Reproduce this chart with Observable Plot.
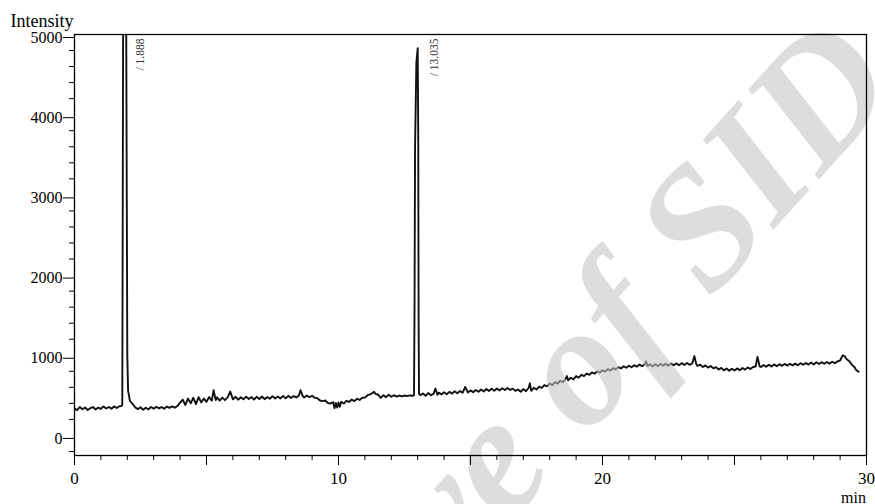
<!DOCTYPE html>
<html>
<head>
<meta charset="utf-8">
<script src="https://cdn.jsdelivr.net/npm/d3@7"></script>
<script src="https://cdn.jsdelivr.net/npm/@observablehq/plot@0.6"></script>
<style>
  html, body { margin: 0; padding: 0; background: #fff; }
</style>
</head>
<body>
<div id="chart"></div>
<script>
// Retention time (min)
const times = [
  0.0,0.1,0.2,0.3,0.4,0.5,0.6,0.7,0.8,0.9,1.0,1.1,1.2,1.3,1.4,1.5,1.6,1.7,1.78,1.81,
  1.83,1.85,1.89,1.93,1.95,1.98,2.0,2.03,2.1,2.2,2.3,2.4,2.5,2.6,2.7,2.8,2.9,
  3.0,3.1,3.2,3.3,3.4,3.5,3.6,3.7,3.8,3.9,4.0,4.1,4.2,4.3,4.4,4.5,4.6,4.7,4.8,4.9,
  5.0,5.1,5.2,5.27,5.35,5.4,5.5,5.6,5.7,5.8,5.9,6.0,6.1,6.2,6.3,6.4,6.5,6.6,6.7,6.8,6.9,
  7.0,7.1,7.2,7.3,7.4,7.5,7.6,7.7,7.8,7.9,8.0,8.1,8.2,8.3,8.4,8.5,8.56,8.65,8.7,8.8,8.9,
  9.0,9.1,9.2,9.3,9.4,9.5,9.6,9.7,9.8,9.85,9.9,9.95,10.0,10.05,10.1,10.2,10.3,10.4,10.5,
  10.6,10.7,10.8,10.9,11.0,11.1,11.2,11.3,11.35,11.4,11.5,11.6,11.7,11.8,11.9,12.0,12.1,
  12.2,12.3,12.4,12.5,12.6,12.7,12.8,12.86,12.88,12.90,12.95,13.0,13.02,13.035,13.05,
  13.1,13.2,13.3,13.4,13.5,13.6,13.67,13.75,13.8,13.9,14.0,14.1,14.2,14.3,14.4,14.5,14.6,
  14.7,14.8,14.9,15.0,15.1,15.2,15.3,15.4,15.5,15.6,15.7,15.8,15.9,16.0,16.1,16.2,16.3,
  16.4,16.5,16.6,16.7,16.8,16.9,17.0,17.1,17.2,17.25,17.3,17.4,17.5,17.6,17.7,17.8,17.9,
  18.0,18.1,18.2,18.3,18.4,18.5,18.6,18.65,18.7,18.8,18.9,19.0,19.1,19.2,19.3,19.4,19.5,
  19.6,19.7,19.8,19.9,20.0,20.1,20.2,20.3,20.4,20.5,20.6,20.7,20.8,20.9,21.0,21.1,21.2,
  21.3,21.4,21.5,21.6,21.65,21.7,21.8,21.9,22.0,22.1,22.2,22.3,22.4,22.5,22.6,22.7,22.8,
  22.9,23.0,23.1,23.2,23.3,23.4,23.48,23.55,23.6,23.7,23.8,23.9,24.0,24.1,24.2,24.3,24.4,
  24.5,24.6,24.7,24.8,24.9,25.0,25.1,25.2,25.3,25.4,25.5,25.6,25.7,25.8,25.87,25.95,26.0,
  26.1,26.2,26.3,26.4,26.5,26.6,26.7,26.8,26.9,27.0,27.1,27.2,27.3,27.4,27.5,27.6,27.7,
  27.8,27.9,28.0,28.1,28.2,28.3,28.4,28.5,28.6,28.7,28.8,28.9,29.0,29.1,29.17,29.25,29.35,
  29.45,29.55,29.6,29.7
];
// Detector intensity
const intensity = [
  340,315,355,326,348,318,340,354,324,348,332,360,336,355,334,362,342,364,368,380,
  3200,6500,9000,6500,6000,3000,1000,560,430,395,350,328,352,320,345,326,355,
  334,358,338,354,334,360,344,362,346,368,410,445,380,460,400,470,390,478,412,460,
  420,480,432,565,440,475,435,472,440,475,548,450,482,446,476,450,484,455,480,448,482,
  455,486,452,480,458,490,460,485,462,492,465,494,468,492,474,498,565,488,474,498,476,
  495,470,465,436,428,436,405,398,416,340,405,348,412,358,418,398,432,418,448,
  428,458,442,470,472,502,512,532,545,518,508,468,502,478,508,482,502,
  485,498,488,498,490,499,495,500,1600,3600,4650,4830,3800,1400,520,
  502,524,495,528,502,518,585,506,534,512,538,514,544,522,552,526,554,
  532,605,536,562,538,566,544,574,548,579,554,584,558,586,562,588,566,
  592,568,584,556,574,545,578,552,592,650,556,594,572,608,592,628,612,
  648,628,664,646,682,664,704,740,686,720,700,740,720,756,740,772,756,
  786,770,800,784,812,796,826,810,840,824,852,836,862,844,870,850,876,
  858,884,864,889,925,866,886,864,889,866,892,868,894,871,896,874,899,
  876,902,878,904,881,898,990,892,866,882,854,874,846,866,836,852,822,
  842,812,834,808,832,811,836,814,842,821,849,828,854,860,980,862,854,
  879,856,882,861,886,864,889,868,892,871,894,874,896,876,902,881,904,
  884,909,886,912,891,914,894,916,896,919,901,924,935,1000,990,950,925,
  880,850,820,795
];
const peakTimes = [1.888, 13.035];
const peakLabels = ["/ 1.888", "/ 13.035"];
const xLabelTicks = [0, 10, 20, 30];
const xMidTicks = [5, 15, 25];
const xMinorTicks = [1,2,3,4,6,7,8,9,11,12,13,14,16,17,18,19,21,22,23,24,26,27,28,29];
const yLabelTicks = [0, 1000, 2000, 3000, 4000, 5000];
const yMinorTicks = [-200,200,400,600,800,1200,1400,1600,1800,2200,2400,2600,2800,3200,3400,3600,3800,4200,4400,4600,4800];
const yTitle = "Intensity";
const xTitle = "min";
const watermark = "Archive of SID";

const data = times.map((t, i) => ({t, v: intensity[i]}));
const blank = () => "";

const chart = Plot.plot({
  width: 875,
  height: 504,
  marginTop: 34,
  marginLeft: 74,
  marginRight: 9,
  marginBottom: 49,
  style: {fontFamily: "'Liberation Serif', 'DejaVu Serif', serif", color: "#000", background: "#fff"},
  x: {domain: [0, 30]},
  y: {domain: [-250, 5000]},
  marks: [
    Plot.line(data, {x: "t", y: "v", stroke: "#111", strokeWidth: 1.9, clip: true}),
    Plot.text([watermark], {frameAnchor: "top-right", dx: 36, dy: 52, rotate: -48,
      textAnchor: "end", lineAnchor: "bottom", fontSize: 172, fontWeight: "bold",
      fontStyle: "italic", fill: "#c4c4c4", fillOpacity: 0.58}),
    Plot.frame({stroke: "#000", strokeWidth: 1.3}),
    Plot.axisY(yLabelTicks, {tickSize: 11, tickPadding: 1, dy: 3, fontSize: 16,
      tickFormat: d => String(d), label: null, stroke: "#000"}),
    Plot.axisY(yMinorTicks, {tickSize: 5, tickFormat: blank, label: null, stroke: "#000"}),
    Plot.axisX(xLabelTicks, {tickSize: 10, tickPadding: 6, fontSize: 17,
      tickFormat: d => String(d), label: null, stroke: "#000"}),
    Plot.axisX(xMidTicks, {tickSize: 10, tickFormat: blank, label: null, stroke: "#000"}),
    Plot.axisX(xMinorTicks, {tickSize: 5, tickFormat: blank, label: null, stroke: "#000"}),
    Plot.text(peakLabels, {x: peakTimes, text: d => d, frameAnchor: "top", rotate: -90,
      textAnchor: "end", dx: 11, dy: 4, fontSize: 11.5, fill: "#333"}),
    Plot.text([yTitle], {frameAnchor: "top-left", dx: -64, dy: -8, textAnchor: "start",
      lineAnchor: "bottom", fontSize: 18}),
    Plot.text([xTitle], {frameAnchor: "bottom-right", dx: -13, dy: 47, textAnchor: "middle",
      lineAnchor: "bottom", fontSize: 16})
  ]
});
document.getElementById("chart").appendChild(chart);
</script>
</body>
</html>
